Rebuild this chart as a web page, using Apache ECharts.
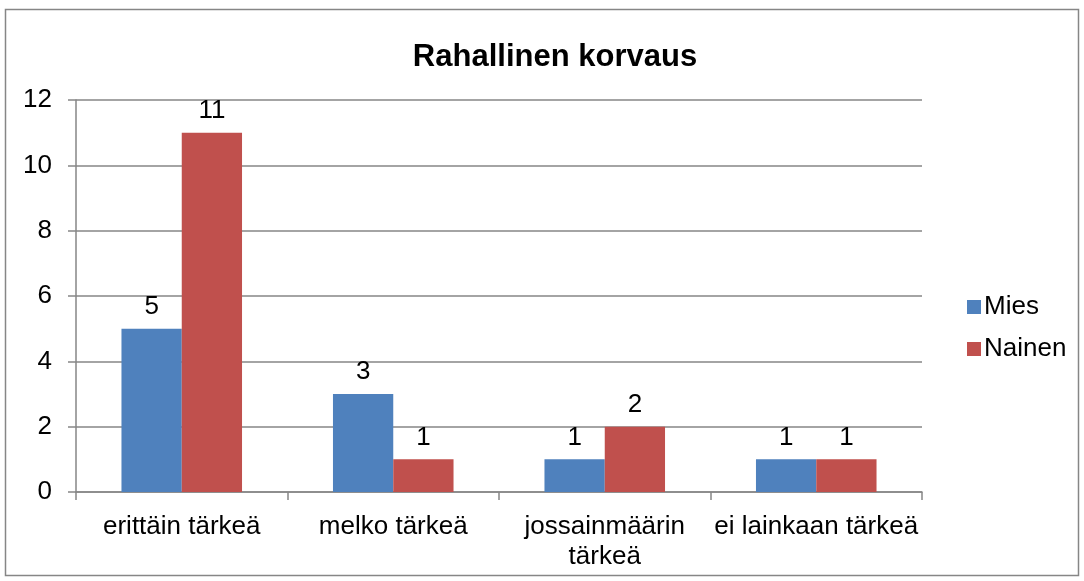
<!DOCTYPE html>
<html>
<head>
<meta charset="utf-8">
<script src="https://cdn.jsdelivr.net/npm/echarts@6/dist/echarts.min.js"></script>
<style>
html, body { margin: 0; padding: 0; background: #fff; }
#main { width: 1084px; height: 581px; }
</style>
</head>
<body>
<div id="main"></div>
<script>
var categories = ['erittäin tärkeä', 'melko tärkeä', 'jossainmäärin\ntärkeä', 'ei lainkaan tärkeä'];
var miesValues = [5, 3, 1, 1];
var nainenValues = [11, 1, 2, 1];
var yTicks = [0, 12, 2];

var myChart = echarts.init(document.getElementById('main'));

var labelStyle = {
    show: true,
    position: 'top',
    distance: 9,
    color: '#000',
    fontFamily: 'Liberation Sans',
    fontSize: 26
};

var option = {
    backgroundColor: '#fff',
    textStyle: { fontFamily: 'Liberation Sans' },
    title: {
        text: 'Rahallinen korvaus',
        left: 550,
        textAlign: 'center',
        top: 37,
        textStyle: { fontSize: 31, fontWeight: 'bold', color: '#000', fontFamily: 'Liberation Sans' }
    },
    legend: {
        orient: 'vertical',
        left: 962,
        top: 289,
        itemWidth: 14,
        itemHeight: 14,
        itemGap: 16,
        icon: 'rect',
        textStyle: { fontSize: 26, color: '#000', fontFamily: 'Liberation Sans', padding: [0, 0, 0, -2] },
        data: ['Mies', 'Nainen']
    },
    grid: { left: 76, right: 162, top: 100, bottom: 89 },
    xAxis: {
        type: 'category',
        data: categories,
        axisLine: { lineStyle: { color: '#868686', width: 1.5 } },
        axisTick: { show: true, length: 8, lineStyle: { color: '#868686', width: 1.5 } },
        axisLabel: { interval: 0, hideOverlap: false, color: '#000', fontSize: 26, margin: 20, lineHeight: 30, fontFamily: 'Liberation Sans' }
    },
    yAxis: {
        type: 'value',
        min: yTicks[0],
        max: yTicks[1],
        interval: yTicks[2],
        axisLine: { show: true, lineStyle: { color: '#868686', width: 1.5 } },
        axisTick: { show: true, length: 8, lineStyle: { color: '#868686', width: 1.5 } },
        splitLine: { lineStyle: { color: '#868686', width: 1.5 } },
        axisLabel: { color: '#000', fontSize: 26, margin: 24, fontFamily: 'Liberation Sans' }
    },
    series: [
        {
            name: 'Mies',
            type: 'bar',
            data: miesValues,
            barGap: '0%',
            barCategoryGap: '43%',
            itemStyle: { color: '#4F81BD' },
            label: labelStyle
        },
        {
            name: 'Nainen',
            type: 'bar',
            data: nainenValues,
            barGap: '0%',
            barCategoryGap: '43%',
            itemStyle: { color: '#C0504D' },
            label: labelStyle
        }
    ],
    graphic: [{
        type: 'rect',
        shape: { x: 5.5, y: 9.5, width: 1073, height: 566 },
        style: { fill: 'none', stroke: '#868686', lineWidth: 1.5 },
        silent: true
    }]
};

myChart.setOption(option);
</script>
</body>
</html>
